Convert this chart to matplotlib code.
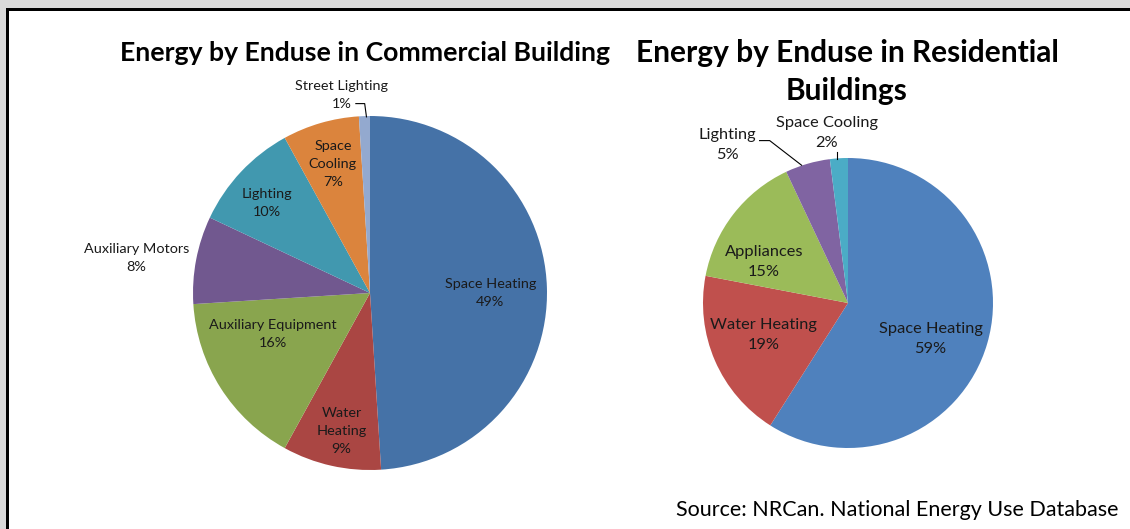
import numpy as np
import matplotlib
matplotlib.use("Agg")
import matplotlib.pyplot as plt
from matplotlib.patches import Rectangle

# Commercial buildings
com_names = ["Space Heating", "Water\nHeating", "Auxiliary Equipment", "Auxiliary Motors",
             "Lighting", "Space\nCooling", "Street Lighting"]
com_values = [49, 9, 16, 8, 10, 7, 1]
com_colors = ["#4572A7", "#AA4643", "#89A54E", "#71588F", "#4198AF", "#DB843D", "#93A9CF"]

# Residential buildings
res_names = ["Space Heating", "Water Heating", "Appliances", "Lighting", "Space Cooling"]
res_values = [59, 19, 15, 5, 2]
res_colors = ["#4F81BD", "#C0504D", "#9BBB59", "#8064A2", "#4BACC6"]

# label positions in radius units (relative to pie centre)
com_pos = [(0.68, 0.0), (-0.16, -0.78), (-0.55, -0.23), (-1.32, 0.20),
           (-0.58, 0.51), (-0.21, 0.73), (-0.16, 1.12)]
res_pos = [(0.57, -0.25), (-0.58, -0.22), (-0.58, 0.28), (-0.83, 1.09), (-0.145, 1.17)]

W, H = 1130, 529
fig = plt.figure(figsize=(W / 100, H / 100), dpi=100)
fig.patch.set_facecolor("white")

# window frame
fig.add_artist(Rectangle((0, 1 - 9 / H), 1, 9 / H, transform=fig.transFigure,
                         facecolor="#D9D9D9", edgecolor="none"))
fig.add_artist(Rectangle((0, 0), 6 / W, 1, transform=fig.transFigure,
                         facecolor="#D9D9D9", edgecolor="none"))
fig.add_artist(Rectangle((6 / W, 1 - 11 / H), 1, 2.5 / H, transform=fig.transFigure,
                         facecolor="black", edgecolor="none"))
fig.add_artist(Rectangle((6 / W, 0), 2.5 / W, 1 - 9 / H, transform=fig.transFigure,
                         facecolor="black", edgecolor="none"))

FONT = "Lato"


def pie_axes(cx, cy, r):
    return fig.add_axes([(cx - r) / W, (H - cy - r) / H, 2 * r / W, 2 * r / H])


def draw_pie(ax, names, values, colors, pos, fs, ls):
    ax.pie(values, colors=colors, startangle=90, counterclock=False, radius=1,
           wedgeprops=dict(linewidth=0))
    ax.set_xlim(-1, 1)
    ax.set_ylim(-1, 1)
    ax.set_aspect("equal")
    ax.set_axis_off()
    for name, v, (x, y) in zip(names, values, pos):
        ax.text(x, y, f"{name}\n{v}%", ha="center", va="center", fontsize=fs,
                family=FONT, color="#1a1a1a", linespacing=ls)


axl = pie_axes(370, 293, 177)
draw_pie(axl, com_names, com_values, com_colors, com_pos, 10.4, 1.6)
axl.plot([-0.08, -0.03, -0.02], [1.07, 1.07, 0.995], color="black", lw=0.8,
         clip_on=False)

axr = pie_axes(848, 303, 145)
draw_pie(axr, res_names, res_values, res_colors, res_pos, 11.8, 1.55)
axr.plot([-0.61, -0.54, -0.32], [1.12, 1.12, 0.95], color="black", lw=0.8,
         clip_on=False)
axr.plot([-0.076, -0.076], [1.04, 0.995], color="black", lw=0.8, clip_on=False)

fig.text(365 / W, 1 - 53 / H, "Energy by Enduse in Commercial Building",
         ha="center", va="center", fontsize=19.2, fontweight="bold", family=FONT)
fig.text(847 / W, 1 - 72 / H, "Energy by Enduse in Residential\nBuildings",
         ha="center", va="center", fontsize=21.5, fontweight="bold", family=FONT,
         linespacing=1.45)
fig.text(1118 / W, 1 - 510 / H, "Source: NRCan. National Energy Use Database",
         ha="right", va="center", fontsize=15.5, family=FONT)

fig.savefig("out.png", dpi=100)
